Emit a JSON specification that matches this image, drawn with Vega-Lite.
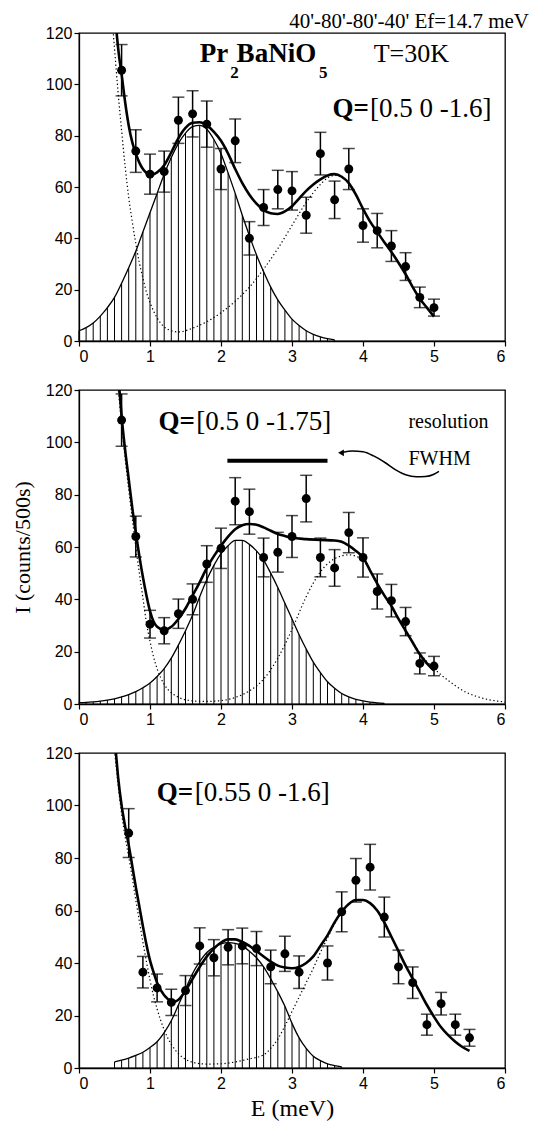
{
"$schema": "https://vega.github.io/schema/vega-lite/v6.json",
"background": "white",
"padding": {"left": 10, "top": 11, "right": 5, "bottom": 5},
"title": {"text": "40'-80'-80'-40' Ef=14.7 meV", "anchor": "end", "frame": "group", "font": "Liberation Serif", "fontSize": 21, "fontWeight": "normal", "color": "black", "dx": 24, "offset": -8},
"config": {
  "view": {"stroke": "black", "strokeWidth": 1.3},
  "axis": {"domainColor": "black", "domainWidth": 1.3, "tickColor": "black", "tickWidth": 1.2, "tickSize": 5, "labelColor": "black", "labelFont": "Liberation Sans", "labelFontSize": 16, "labelPadding": 2, "grid": false, "titleFont": "Liberation Serif", "titleFontWeight": "normal", "titleColor": "black", "titleFontSize": 22},
  "text": {"font": "Liberation Serif", "color": "black"}
},
"datasets": {
  "p1pts": [{"E":0.6,"I":105.5,"err":10},{"E":0.8,"I":74,"err":8.3},{"E":1.0,"I":65,"err":7.8},{"E":1.2,"I":66,"err":8},{"E":1.4,"I":86,"err":9},{"E":1.6,"I":88.5,"err":9},{"E":1.8,"I":84.5,"err":9},{"E":2.0,"I":67,"err":8},{"E":2.2,"I":78,"err":8.5},{"E":2.4,"I":40,"err":6.5},{"E":2.6,"I":52,"err":7},{"E":2.8,"I":59,"err":7.5},{"E":3.0,"I":58.5,"err":7.5},{"E":3.2,"I":49,"err":7},{"E":3.4,"I":73,"err":8.3},{"E":3.6,"I":55,"err":7.3},{"E":3.8,"I":67,"err":8},{"E":4.0,"I":45,"err":6.5},{"E":4.2,"I":43,"err":6.7},{"E":4.4,"I":37,"err":6},{"E":4.6,"I":29,"err":5.4},{"E":4.8,"I":17,"err":4},{"E":5.0,"I":13,"err":3.3}],
  "p1fit": [{"E":0.53,"I":120},{"E":0.56,"I":112},{"E":0.6,"I":104},{"E":0.65,"I":93},{"E":0.7,"I":84},{"E":0.75,"I":77.5},{"E":0.8,"I":73},{"E":0.85,"I":69.5},{"E":0.9,"I":67},{"E":0.95,"I":65.5},{"E":1.0,"I":65},{"E":1.05,"I":65},{"E":1.1,"I":65.7},{"E":1.2,"I":68.5},{"E":1.3,"I":73.5},{"E":1.4,"I":79},{"E":1.5,"I":83},{"E":1.6,"I":85},{"E":1.7,"I":85.2},{"E":1.8,"I":84},{"E":1.9,"I":81.5},{"E":2.0,"I":78},{"E":2.1,"I":73},{"E":2.2,"I":67},{"E":2.3,"I":61.5},{"E":2.4,"I":57},{"E":2.5,"I":53.5},{"E":2.6,"I":51},{"E":2.7,"I":49.8},{"E":2.8,"I":49.5},{"E":2.9,"I":50.5},{"E":3.0,"I":52.5},{"E":3.1,"I":55.5},{"E":3.2,"I":58.5},{"E":3.3,"I":61},{"E":3.4,"I":63},{"E":3.5,"I":64.5},{"E":3.6,"I":65},{"E":3.7,"I":64},{"E":3.8,"I":61.5},{"E":3.9,"I":57},{"E":4.0,"I":51.5},{"E":4.1,"I":46.5},{"E":4.2,"I":42.5},{"E":4.3,"I":38.5},{"E":4.4,"I":34.7},{"E":4.5,"I":30.5},{"E":4.6,"I":26},{"E":4.7,"I":21},{"E":4.8,"I":16.5},{"E":4.9,"I":13},{"E":5.0,"I":9.5}],
  "p1dot": [{"E":0.48,"I":121},{"E":0.5,"I":114},{"E":0.55,"I":97},{"E":0.6,"I":82},{"E":0.65,"I":68},{"E":0.7,"I":56},{"E":0.75,"I":46.5},{"E":0.8,"I":38},{"E":0.85,"I":30.5},{"E":0.9,"I":24.5},{"E":0.95,"I":19},{"E":1.0,"I":15},{"E":1.1,"I":9},{"E":1.2,"I":5.5},{"E":1.3,"I":4},{"E":1.4,"I":3.5},{"E":1.5,"I":4},{"E":1.6,"I":5},{"E":1.8,"I":7.5},{"E":2.0,"I":11},{"E":2.2,"I":15.5},{"E":2.4,"I":21},{"E":2.6,"I":28},{"E":2.8,"I":36},{"E":3.0,"I":45},{"E":3.2,"I":54},{"E":3.4,"I":61},{"E":3.5,"I":63.5},{"E":3.6,"I":64.5},{"E":3.7,"I":64}],
  "p1gau": [{"E":0.0,"I":4},{"E":0.1,"I":5.2},{"E":0.2,"I":7},{"E":0.3,"I":9.7},{"E":0.4,"I":13},{"E":0.5,"I":17},{"E":0.6,"I":22.5},{"E":0.7,"I":28.5},{"E":0.8,"I":35},{"E":0.9,"I":42.5},{"E":1.0,"I":50},{"E":1.1,"I":57.5},{"E":1.2,"I":65},{"E":1.3,"I":71.5},{"E":1.4,"I":77},{"E":1.5,"I":81},{"E":1.6,"I":83.5},{"E":1.7,"I":84},{"E":1.8,"I":82.5},{"E":1.9,"I":78.5},{"E":2.0,"I":73},{"E":2.1,"I":65.5},{"E":2.2,"I":57.5},{"E":2.3,"I":49},{"E":2.4,"I":41},{"E":2.5,"I":33.5},{"E":2.6,"I":27},{"E":2.7,"I":21},{"E":2.8,"I":16},{"E":2.9,"I":12},{"E":3.0,"I":8.5},{"E":3.1,"I":6},{"E":3.2,"I":4},{"E":3.3,"I":2.6},{"E":3.4,"I":1.6},{"E":3.5,"I":0.9},{"E":3.6,"I":0.4}],
  "p2pts": [{"E":0.6,"I":108.5,"err":10},{"E":0.8,"I":64,"err":7.8},{"E":1.0,"I":30.5,"err":5.3},{"E":1.2,"I":28,"err":5},{"E":1.4,"I":34.5,"err":5.6},{"E":1.6,"I":40,"err":5.9},{"E":1.8,"I":53.5,"err":7},{"E":2.0,"I":59.5,"err":7.7},{"E":2.2,"I":77.5,"err":9},{"E":2.4,"I":73.5,"err":8.6},{"E":2.6,"I":56,"err":7.4},{"E":2.8,"I":58,"err":7.6},{"E":3.0,"I":64,"err":8},{"E":3.2,"I":78.5,"err":8.9},{"E":3.4,"I":56,"err":7.4},{"E":3.6,"I":52,"err":7},{"E":3.8,"I":65.5,"err":7.7},{"E":4.0,"I":56,"err":7.5},{"E":4.2,"I":43,"err":6.7},{"E":4.4,"I":39.5,"err":6.2},{"E":4.6,"I":31.5,"err":5.4},{"E":4.8,"I":15.5,"err":4},{"E":5.0,"I":14.5,"err":3.7}],
  "p2fit": [{"E":0.57,"I":120},{"E":0.6,"I":110},{"E":0.65,"I":97},{"E":0.7,"I":86},{"E":0.75,"I":75},{"E":0.8,"I":65.5},{"E":0.85,"I":56.5},{"E":0.9,"I":48.5},{"E":0.95,"I":41.5},{"E":1.0,"I":35.5},{"E":1.05,"I":31.5},{"E":1.1,"I":29.5},{"E":1.2,"I":28.3},{"E":1.3,"I":29.5},{"E":1.4,"I":32.5},{"E":1.5,"I":36.5},{"E":1.6,"I":41.5},{"E":1.7,"I":46.5},{"E":1.8,"I":52},{"E":1.9,"I":56.5},{"E":2.0,"I":60.5},{"E":2.1,"I":64},{"E":2.2,"I":66.8},{"E":2.3,"I":68.3},{"E":2.4,"I":68.8},{"E":2.5,"I":68.5},{"E":2.6,"I":67.5},{"E":2.7,"I":66.2},{"E":2.8,"I":65},{"E":2.9,"I":64.2},{"E":3.0,"I":63.5},{"E":3.2,"I":63},{"E":3.4,"I":62.7},{"E":3.6,"I":62.5},{"E":3.7,"I":62},{"E":3.8,"I":60.5},{"E":3.9,"I":58.5},{"E":4.0,"I":56},{"E":4.1,"I":51},{"E":4.2,"I":46},{"E":4.3,"I":41.5},{"E":4.4,"I":37.5},{"E":4.5,"I":32.5},{"E":4.6,"I":28},{"E":4.7,"I":23.5},{"E":4.8,"I":19},{"E":4.9,"I":15.5},{"E":5.0,"I":12.8}],
  "p2dot": [{"E":0.55,"I":121},{"E":0.6,"I":107},{"E":0.65,"I":94},{"E":0.7,"I":82},{"E":0.75,"I":71},{"E":0.8,"I":60},{"E":0.85,"I":50},{"E":0.9,"I":40.5},{"E":0.95,"I":31},{"E":1.0,"I":24},{"E":1.05,"I":18},{"E":1.1,"I":13.5},{"E":1.2,"I":7.5},{"E":1.3,"I":4.3},{"E":1.4,"I":2.6},{"E":1.6,"I":1.2},{"E":1.8,"I":1},{"E":2.0,"I":1.3},{"E":2.2,"I":2.5},{"E":2.4,"I":5},{"E":2.6,"I":9.5},{"E":2.8,"I":17.5},{"E":3.0,"I":28.5},{"E":3.2,"I":41},{"E":3.4,"I":50.5},{"E":3.6,"I":55.5},{"E":3.8,"I":57},{"E":4.0,"I":55},{"E":4.2,"I":46},{"E":4.4,"I":37},{"E":4.6,"I":28},{"E":4.8,"I":19.5},{"E":5.0,"I":13.5},{"E":5.2,"I":9},{"E":5.4,"I":5.2},{"E":5.6,"I":2.9},{"E":5.8,"I":1.5},{"E":6.0,"I":0.8}],
  "p2gau": [{"E":0.0,"I":0.5},{"E":0.1,"I":0.6},{"E":0.2,"I":0.8},{"E":0.3,"I":1.1},{"E":0.4,"I":1.5},{"E":0.5,"I":2},{"E":0.6,"I":2.7},{"E":0.7,"I":3.6},{"E":0.8,"I":4.7},{"E":0.9,"I":6.2},{"E":1.0,"I":8},{"E":1.1,"I":10.5},{"E":1.2,"I":13.5},{"E":1.3,"I":17.5},{"E":1.4,"I":22.5},{"E":1.5,"I":28},{"E":1.6,"I":34},{"E":1.7,"I":41},{"E":1.8,"I":47.5},{"E":1.9,"I":53},{"E":2.0,"I":57.5},{"E":2.1,"I":60.5},{"E":2.2,"I":62.5},{"E":2.3,"I":62.5},{"E":2.4,"I":61},{"E":2.5,"I":58.5},{"E":2.6,"I":55},{"E":2.7,"I":50},{"E":2.8,"I":44.5},{"E":2.9,"I":38.5},{"E":3.0,"I":32.5},{"E":3.1,"I":26.5},{"E":3.2,"I":21},{"E":3.3,"I":16},{"E":3.4,"I":12},{"E":3.5,"I":8.5},{"E":3.6,"I":6},{"E":3.7,"I":4},{"E":3.8,"I":2.7},{"E":3.9,"I":1.8},{"E":4.0,"I":1.2},{"E":4.1,"I":0.7},{"E":4.2,"I":0.4},{"E":4.3,"I":0.2}],
  "arrow": [{"E":3.72,"I":96.2},{"E":3.85,"I":96.7},{"E":4.0,"I":96.4},{"E":4.15,"I":94.8},{"E":4.32,"I":92.1},{"E":4.46,"I":89.5},{"E":4.6,"I":87.6},{"E":4.75,"I":86.8},{"E":4.88,"I":86.9},{"E":5.0,"I":87.8},{"E":5.07,"I":88.9}],
  "p3pts": [{"E":0.7,"I":89.5,"err":9.3},{"E":0.9,"I":36.5,"err":6},{"E":1.1,"I":30.5,"err":5.3},{"E":1.3,"I":25,"err":5},{"E":1.5,"I":29.5,"err":5.7},{"E":1.7,"I":46.5,"err":6.9},{"E":1.9,"I":42,"err":6.9},{"E":2.1,"I":46,"err":6.7},{"E":2.3,"I":46.5,"err":6.8},{"E":2.5,"I":45.5,"err":6.5},{"E":2.7,"I":38.5,"err":6.4},{"E":2.9,"I":43.5,"err":6.7},{"E":3.1,"I":36.5,"err":6.2},{"E":3.5,"I":40,"err":6.5},{"E":3.7,"I":59.5,"err":7.6},{"E":3.9,"I":71.5,"err":8.3},{"E":4.1,"I":76.5,"err":8.7},{"E":4.3,"I":57.5,"err":7.6},{"E":4.5,"I":38.5,"err":6.4},{"E":4.7,"I":32.5,"err":6},{"E":4.9,"I":16.5,"err":4},{"E":5.1,"I":24.5,"err":4.3},{"E":5.3,"I":16.5,"err":4},{"E":5.5,"I":11.5,"err":3.2}],
  "p3fit": [{"E":0.52,"I":120},{"E":0.55,"I":111},{"E":0.6,"I":100},{"E":0.65,"I":92},{"E":0.7,"I":85},{"E":0.75,"I":77},{"E":0.8,"I":69},{"E":0.85,"I":61.5},{"E":0.9,"I":54},{"E":0.95,"I":47},{"E":1.0,"I":41},{"E":1.05,"I":36.5},{"E":1.1,"I":32.5},{"E":1.2,"I":27.7},{"E":1.3,"I":25.5},{"E":1.35,"I":25.3},{"E":1.4,"I":26},{"E":1.5,"I":29.5},{"E":1.6,"I":34},{"E":1.7,"I":38.5},{"E":1.8,"I":42.5},{"E":1.9,"I":45.5},{"E":2.0,"I":47.8},{"E":2.1,"I":49},{"E":2.2,"I":49},{"E":2.3,"I":48},{"E":2.4,"I":46.5},{"E":2.5,"I":44.5},{"E":2.6,"I":42.5},{"E":2.7,"I":40.5},{"E":2.8,"I":39},{"E":2.9,"I":38.3},{"E":3.0,"I":38},{"E":3.1,"I":38.5},{"E":3.2,"I":40},{"E":3.3,"I":42.5},{"E":3.4,"I":46.5},{"E":3.5,"I":50.5},{"E":3.6,"I":55.5},{"E":3.7,"I":59.5},{"E":3.8,"I":62.5},{"E":3.9,"I":64},{"E":4.0,"I":64},{"E":4.1,"I":62.8},{"E":4.2,"I":60},{"E":4.3,"I":55.5},{"E":4.4,"I":50},{"E":4.5,"I":44.5},{"E":4.6,"I":39},{"E":4.7,"I":34},{"E":4.8,"I":29},{"E":4.9,"I":24},{"E":5.0,"I":19.5},{"E":5.1,"I":15.5},{"E":5.2,"I":12.5},{"E":5.3,"I":10},{"E":5.4,"I":8},{"E":5.5,"I":6.5}],
  "p3dot": [{"E":0.5,"I":121},{"E":0.55,"I":108},{"E":0.6,"I":97},{"E":0.65,"I":88},{"E":0.7,"I":80.5},{"E":0.75,"I":72.5},{"E":0.8,"I":64},{"E":0.85,"I":56},{"E":0.9,"I":48},{"E":0.95,"I":40.5},{"E":1.0,"I":33.5},{"E":1.05,"I":27.5},{"E":1.1,"I":22.5},{"E":1.2,"I":14.5},{"E":1.3,"I":9},{"E":1.4,"I":5.5},{"E":1.5,"I":3.3},{"E":1.6,"I":2.2},{"E":1.8,"I":1.5},{"E":2.0,"I":1.6},{"E":2.2,"I":2.3},{"E":2.4,"I":3.5},{"E":2.6,"I":5},{"E":2.7,"I":7.5},{"E":2.8,"I":11},{"E":2.9,"I":16},{"E":3.0,"I":21.5},{"E":3.1,"I":27},{"E":3.2,"I":32.5},{"E":3.3,"I":38},{"E":3.4,"I":44},{"E":3.5,"I":49.5},{"E":3.6,"I":55},{"E":3.7,"I":59.5},{"E":3.8,"I":62.5},{"E":3.9,"I":64},{"E":4.0,"I":64}],
  "p3gau": [{"E":0.5,"I":2.3},{"E":0.6,"I":3},{"E":0.7,"I":3.8},{"E":0.8,"I":4.8},{"E":0.9,"I":6},{"E":1.0,"I":7.8},{"E":1.1,"I":10},{"E":1.2,"I":13.5},{"E":1.3,"I":18},{"E":1.4,"I":24},{"E":1.5,"I":30},{"E":1.6,"I":36},{"E":1.7,"I":40.5},{"E":1.8,"I":44},{"E":1.9,"I":46},{"E":2.0,"I":47.3},{"E":2.1,"I":47.8},{"E":2.2,"I":47.5},{"E":2.3,"I":46.5},{"E":2.4,"I":44.5},{"E":2.5,"I":42},{"E":2.6,"I":38.5},{"E":2.7,"I":34},{"E":2.8,"I":29},{"E":2.9,"I":23.5},{"E":3.0,"I":17},{"E":3.1,"I":11.5},{"E":3.2,"I":7.5},{"E":3.3,"I":4.5},{"E":3.4,"I":2.8},{"E":3.5,"I":1.6},{"E":3.6,"I":0.9},{"E":3.7,"I":0.4}]
},
"spacing": 16,
"vconcat": [
{
  "width": 426, "height": 308,
  "layer": [
    {"data": {"name": "p1gau"}, "mark": {"type": "rule", "color": "black", "strokeWidth": 1},
     "encoding": {
       "x": {"field": "E", "type": "quantitative", "scale": {"domain": [0, 6], "nice": false, "zero": false}, "axis": {"title": null, "values": [0,0.5,1,1.5,2,2.5,3,3.5,4,4.5,5,5.5,6], "labelExpr": "datum.value % 1 === 0 ? format(datum.value, 'd') : ''"}},
       "y": {"field": "I", "type": "quantitative", "scale": {"domain": [0, 120], "nice": false}, "axis": {"title": null, "values": [0,10,20,30,40,50,60,70,80,90,100,110,120], "labelExpr": "datum.value % 20 === 0 ? format(datum.value, 'd') : ''"}},
       "y2": {"datum": 0}}},
    {"data": {"name": "p1gau"}, "mark": {"type": "line", "color": "black", "strokeWidth": 1.3, "interpolate": "monotone"}, "encoding": {"x": {"field": "E", "type": "quantitative"}, "y": {"field": "I", "type": "quantitative"}}},
    {"data": {"name": "p1dot"}, "mark": {"type": "line", "color": "black", "strokeWidth": 1.2, "strokeDash": [1.3, 2.5], "interpolate": "monotone", "clip": true}, "encoding": {"x": {"field": "E", "type": "quantitative"}, "y": {"field": "I", "type": "quantitative"}}},
    {"data": {"name": "p1fit"}, "mark": {"type": "line", "color": "black", "strokeWidth": 2.6, "interpolate": "monotone", "clip": true}, "encoding": {"x": {"field": "E", "type": "quantitative"}, "y": {"field": "I", "type": "quantitative"}}},
    {"data": {"name": "p1pts"}, "mark": {"type": "errorbar", "ticks": true, "color": "black", "thickness": 1.5, "size": 12}, "encoding": {"x": {"field": "E", "type": "quantitative"}, "y": {"field": "I", "type": "quantitative", "title": null}, "yError": {"field": "err"}}},
    {"data": {"name": "p1pts"}, "mark": {"type": "point", "filled": true, "color": "black", "size": 80, "opacity": 1}, "encoding": {"x": {"field": "E", "type": "quantitative"}, "y": {"field": "I", "type": "quantitative"}}},
    {"data": {"values": [{}]}, "mark": {"type": "text", "align": "left", "baseline": "alphabetic", "fontSize": 27, "fontWeight": "bold"}, "encoding": {"x": {"datum": 1.70}, "y": {"datum": 108.8}, "text": {"value": "Pr"}}},
    {"data": {"values": [{}]}, "mark": {"type": "text", "align": "left", "baseline": "alphabetic", "fontSize": 17, "fontWeight": "bold"}, "encoding": {"x": {"datum": 2.13}, "y": {"datum": 102.5}, "text": {"value": "2"}}},
    {"data": {"values": [{}]}, "mark": {"type": "text", "align": "left", "baseline": "alphabetic", "fontSize": 27, "fontWeight": "bold"}, "encoding": {"x": {"datum": 2.22}, "y": {"datum": 108.8}, "text": {"value": "BaNiO"}}},
    {"data": {"values": [{}]}, "mark": {"type": "text", "align": "left", "baseline": "alphabetic", "fontSize": 17, "fontWeight": "bold"}, "encoding": {"x": {"datum": 3.38}, "y": {"datum": 102.5}, "text": {"value": "5"}}},
    {"data": {"values": [{}]}, "mark": {"type": "text", "align": "left", "baseline": "alphabetic", "fontSize": 26}, "encoding": {"x": {"datum": 4.15}, "y": {"datum": 108.8}, "text": {"value": "T=30K"}}},
    {"data": {"values": [{}]}, "mark": {"type": "text", "align": "left", "baseline": "alphabetic", "fontSize": 27, "fontWeight": "bold"}, "encoding": {"x": {"datum": 3.57}, "y": {"datum": 87.3}, "text": {"value": "Q="}}},
    {"data": {"values": [{}]}, "mark": {"type": "text", "align": "left", "baseline": "alphabetic", "fontSize": 27}, "encoding": {"x": {"datum": 4.10}, "y": {"datum": 87.3}, "text": {"value": "[0.5 0 -1.6]"}}}
  ]
},
{
  "width": 426, "height": 314,
  "layer": [
    {"data": {"name": "p2gau"}, "mark": {"type": "rule", "color": "black", "strokeWidth": 1},
     "encoding": {
       "x": {"field": "E", "type": "quantitative", "scale": {"domain": [0, 6], "nice": false, "zero": false}, "axis": {"title": null, "values": [0,0.5,1,1.5,2,2.5,3,3.5,4,4.5,5,5.5,6], "labelExpr": "datum.value % 1 === 0 ? format(datum.value, 'd') : ''"}},
       "y": {"field": "I", "type": "quantitative", "title": "I (counts/500s)", "scale": {"domain": [0, 120], "nice": false}, "axis": {"title": "I (counts/500s)", "titlePadding": 11, "values": [0,10,20,30,40,50,60,70,80,90,100,110,120], "labelExpr": "datum.value % 20 === 0 ? format(datum.value, 'd') : ''"}},
       "y2": {"datum": 0}}},
    {"data": {"name": "p2gau"}, "mark": {"type": "line", "color": "black", "strokeWidth": 1.3, "interpolate": "monotone"}, "encoding": {"x": {"field": "E", "type": "quantitative"}, "y": {"field": "I", "type": "quantitative", "title": "I (counts/500s)"}}},
    {"data": {"name": "p2dot"}, "mark": {"type": "line", "color": "black", "strokeWidth": 1.2, "strokeDash": [1.3, 2.5], "interpolate": "monotone", "clip": true}, "encoding": {"x": {"field": "E", "type": "quantitative"}, "y": {"field": "I", "type": "quantitative", "title": "I (counts/500s)"}}},
    {"data": {"name": "p2fit"}, "mark": {"type": "line", "color": "black", "strokeWidth": 2.6, "interpolate": "monotone", "clip": true}, "encoding": {"x": {"field": "E", "type": "quantitative"}, "y": {"field": "I", "type": "quantitative", "title": "I (counts/500s)"}}},
    {"data": {"name": "p2pts"}, "mark": {"type": "errorbar", "ticks": true, "color": "black", "thickness": 1.5, "size": 12}, "encoding": {"x": {"field": "E", "type": "quantitative"}, "y": {"field": "I", "type": "quantitative", "title": "I (counts/500s)"}, "yError": {"field": "err"}}},
    {"data": {"name": "p2pts"}, "mark": {"type": "point", "filled": true, "color": "black", "size": 80, "opacity": 1}, "encoding": {"x": {"field": "E", "type": "quantitative"}, "y": {"field": "I", "type": "quantitative", "title": "I (counts/500s)"}}},
    {"data": {"values": [{}]}, "mark": {"type": "rule", "color": "black", "strokeWidth": 4}, "encoding": {"x": {"datum": 2.09}, "x2": {"datum": 3.5}, "y": {"datum": 93}}},
    {"data": {"name": "arrow"}, "mark": {"type": "line", "color": "black", "strokeWidth": 1.5, "interpolate": "monotone"}, "encoding": {"x": {"field": "E", "type": "quantitative"}, "y": {"field": "I", "type": "quantitative", "title": "I (counts/500s)"}}},
    {"data": {"values": [{}]}, "mark": {"type": "point", "shape": "triangle-left", "filled": true, "color": "black", "size": 45, "opacity": 1}, "encoding": {"x": {"datum": 3.69}, "y": {"datum": 96}}},
    {"data": {"values": [{}]}, "mark": {"type": "text", "align": "left", "baseline": "alphabetic", "fontSize": 20}, "encoding": {"x": {"datum": 4.64}, "y": {"datum": 105.5}, "text": {"value": "resolution"}}},
    {"data": {"values": [{}]}, "mark": {"type": "text", "align": "left", "baseline": "alphabetic", "fontSize": 20}, "encoding": {"x": {"datum": 4.64}, "y": {"datum": 91.4}, "text": {"value": "FWHM"}}},
    {"data": {"values": [{}]}, "mark": {"type": "text", "align": "left", "baseline": "alphabetic", "fontSize": 27, "fontWeight": "bold"}, "encoding": {"x": {"datum": 1.118}, "y": {"datum": 104.9}, "text": {"value": "Q="}}},
    {"data": {"values": [{}]}, "mark": {"type": "text", "align": "left", "baseline": "alphabetic", "fontSize": 27}, "encoding": {"x": {"datum": 1.65}, "y": {"datum": 104.9}, "text": {"value": "[0.5 0 -1.75]"}}}
  ]
},
{
  "width": 426, "height": 315,
  "layer": [
    {"data": {"name": "p3gau"}, "mark": {"type": "rule", "color": "black", "strokeWidth": 1},
     "encoding": {
       "x": {"field": "E", "type": "quantitative", "scale": {"domain": [0, 6], "nice": false, "zero": false}, "axis": {"title": "E (meV)", "titleFontSize": 24, "titlePadding": 5, "values": [0,0.5,1,1.5,2,2.5,3,3.5,4,4.5,5,5.5,6], "labelExpr": "datum.value % 1 === 0 ? format(datum.value, 'd') : ''"}},
       "y": {"field": "I", "type": "quantitative", "scale": {"domain": [0, 120], "nice": false}, "axis": {"title": null, "values": [0,10,20,30,40,50,60,70,80,90,100,110,120], "labelExpr": "datum.value % 20 === 0 ? format(datum.value, 'd') : ''"}},
       "y2": {"datum": 0}}},
    {"data": {"name": "p3gau"}, "mark": {"type": "line", "color": "black", "strokeWidth": 1.3, "interpolate": "monotone"}, "encoding": {"x": {"field": "E", "type": "quantitative"}, "y": {"field": "I", "type": "quantitative"}}},
    {"data": {"name": "p3dot"}, "mark": {"type": "line", "color": "black", "strokeWidth": 1.2, "strokeDash": [1.3, 2.5], "interpolate": "monotone", "clip": true}, "encoding": {"x": {"field": "E", "type": "quantitative"}, "y": {"field": "I", "type": "quantitative"}}},
    {"data": {"name": "p3fit"}, "mark": {"type": "line", "color": "black", "strokeWidth": 2.6, "interpolate": "monotone", "clip": true}, "encoding": {"x": {"field": "E", "type": "quantitative"}, "y": {"field": "I", "type": "quantitative"}}},
    {"data": {"name": "p3pts"}, "mark": {"type": "errorbar", "ticks": true, "color": "black", "thickness": 1.5, "size": 12}, "encoding": {"x": {"field": "E", "type": "quantitative"}, "y": {"field": "I", "type": "quantitative", "title": null}, "yError": {"field": "err"}}},
    {"data": {"name": "p3pts"}, "mark": {"type": "point", "filled": true, "color": "black", "size": 80, "opacity": 1}, "encoding": {"x": {"field": "E", "type": "quantitative"}, "y": {"field": "I", "type": "quantitative"}}},
    {"data": {"values": [{}]}, "mark": {"type": "text", "align": "left", "baseline": "alphabetic", "fontSize": 27, "fontWeight": "bold"}, "encoding": {"x": {"datum": 1.094}, "y": {"datum": 101.8}, "text": {"value": "Q="}}},
    {"data": {"values": [{}]}, "mark": {"type": "text", "align": "left", "baseline": "alphabetic", "fontSize": 27}, "encoding": {"x": {"datum": 1.63}, "y": {"datum": 101.8}, "text": {"value": "[0.55 0 -1.6]"}}}
  ]
}
]
}
